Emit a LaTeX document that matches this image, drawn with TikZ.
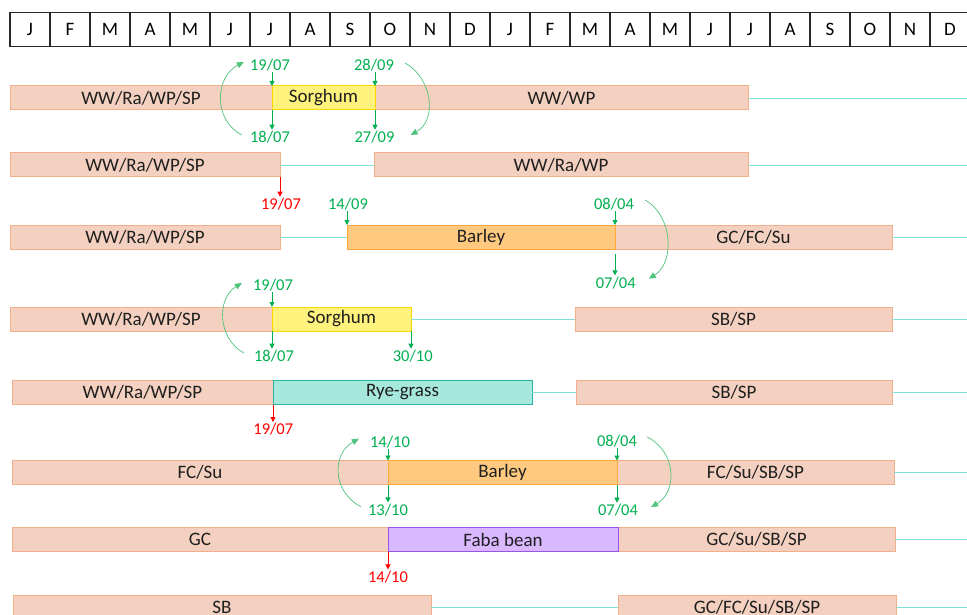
\documentclass[tikz,border=0pt]{standalone}
\usepackage{fontspec}
\setmainfont{Carlito}
\usetikzlibrary{arrows.meta}
\definecolor{peachF}{RGB}{243,208,191}
\definecolor{peachD}{RGB}{243,175,140}
\definecolor{sorgF}{RGB}{255,243,125}
\definecolor{sorgD}{RGB}{255,215,0}
\definecolor{barlF}{RGB}{255,201,128}
\definecolor{barlD}{RGB}{255,168,55}
\definecolor{ryeF}{RGB}{166,232,219}
\definecolor{ryeD}{RGB}{40,180,160}
\definecolor{fabaF}{RGB}{217,184,255}
\definecolor{fabaD}{RGB}{150,85,235}
\definecolor{cyanL}{RGB}{130,224,214}
\definecolor{gdate}{RGB}{0,176,80}
\definecolor{garcC}{RGB}{80,195,125}
\definecolor{rdate}{RGB}{255,0,0}
\definecolor{hdr}{RGB}{40,40,40}
\newcommand{\cropbar}[6]{\pgfmathsetmacro{\barw}{#3-#2}\node[#5, minimum width=\barw pt, anchor=west] (#1) at (#2,#4) {#6};}
\tikzset{
 barbase/.style={line width=1pt, minimum height=24pt, inner sep=0pt, outer sep=0pt, font=\fontsize{19}{21}\selectfont, text=black!88},
 peach/.style={barbase, fill=peachF, draw=peachD},
 sorg/.style={barbase, fill=sorgF, draw=sorgD},
 barl/.style={barbase, fill=barlF, draw=barlD},
 rye/.style={barbase, fill=ryeF, draw=ryeD},
 faba/.style={barbase, fill=fabaF, draw=fabaD},
 month/.style={draw=hdr, line width=1.1pt, minimum width=40pt, minimum height=34pt, inner sep=0pt, outer sep=0pt, font=\fontsize{19}{21}\selectfont},
 gd/.style={text=gdate, font=\fontsize{16.5}{18}\selectfont, inner sep=1pt},
 rd/.style={text=rdate, font=\fontsize{16.5}{18}\selectfont, inner sep=1pt},
 garr/.style={draw=gdate, line width=0.8pt, -{Triangle[width=5pt,length=5pt]}},
 rarr/.style={draw=rdate, line width=0.8pt, -{Triangle[width=5pt,length=5pt]}},
 garc/.style={draw=garcC, line width=0.7pt, -{Triangle[width=6pt,length=7pt]}},
 link/.style={draw=cyanL, line width=0.9pt},
}
\begin{document}
\begin{tikzpicture}[x=1pt, y=-1pt]
\useasboundingbox (0,0) rectangle (967,615);
\clip (0,0) rectangle (967,615);
\fill[white] (0,0) rectangle (967,615);
% header
\foreach \m [count=\i from 0] in {J,F,M,A,M,J,J,A,S,O,N,D,J,F,M,A,M,J,J,A,S,O,N,D}
  \node[month] (m\i) at (30+40*\i, 29.7) {\m};
% row 1
\cropbar{A1}{10}{272}{98}{peach}{WW/Ra/WP/SP}
\cropbar{B1}{375}{748}{98}{peach}{WW/WP}
\cropbar{S1}{272}{375}{98}{sorg}{Sorghum}
% row 2
\cropbar{A2}{10}{280}{165}{peach}{WW/Ra/WP/SP}
\cropbar{B2}{374}{748}{165}{peach}{WW/Ra/WP}
% row 3
\cropbar{A3}{10}{280}{237}{peach}{WW/Ra/WP/SP}
\cropbar{C3}{615}{892}{237}{peach}{GC/FC/Su}
\cropbar{Y3}{347}{615}{237}{barl}{Barley}
% row 4
\cropbar{A4}{10}{272}{319}{peach}{WW/Ra/WP/SP}
\cropbar{B4}{575}{892}{319}{peach}{SB/SP}
\cropbar{S4}{272}{411}{319}{sorg}{Sorghum}
% row 5
\cropbar{A5}{12}{273}{392.5}{peach}{WW/Ra/WP/SP}
\cropbar{B5}{576}{892}{392.5}{peach}{SB/SP}
\cropbar{R5}{273}{532}{392.5}{rye}{Rye-grass}
% row 6
\cropbar{A6}{12}{388}{472.5}{peach}{FC/Su}
\cropbar{C6}{617}{894}{472.5}{peach}{FC/Su/SB/SP}
\cropbar{Y6}{388}{617}{472.5}{barl}{Barley}
% row 7
\cropbar{A7}{12}{388}{539.5}{peach}{GC}
\cropbar{C7}{618}{895}{539.5}{peach}{GC/Su/SB/SP}
\cropbar{F7}{388}{618}{539.5}{faba}{Faba bean}
% row 8
\cropbar{A8}{13}{431}{607.5}{peach}{SB}
\cropbar{C8}{618}{896}{607.5}{peach}{GC/FC/Su/SB/SP}
% right ends
\coordinate (e1) at (970,98);
\coordinate (e2) at (970,165);
\coordinate (e3) at (970,237);
\coordinate (e4) at (970,319);
\coordinate (e5) at (970,392.5);
\coordinate (e6) at (970,472.5);
\coordinate (e7) at (970,539.5);
\coordinate (e8) at (970,607.5);
% links
\draw[link] (B1.east) -- (e1);
\draw[link] (A2.east) -- (B2.west);
\draw[link] (B2.east) -- (e2);
\draw[link] (A3.east) -- (Y3.west);
\draw[link] (C3.east) -- (e3);
\draw[link] (S4.east) -- (B4.west);
\draw[link] (B4.east) -- (e4);
\draw[link] (R5.east) -- (B5.west);
\draw[link] (B5.east) -- (e5);
\draw[link] (C6.east) -- (e6);
\draw[link] (C7.east) -- (e7);
\draw[link] (A8.east) -- (C8.west);
\draw[link] (C8.east) -- (e8);
% labels row 1
\node[gd] (d1a) at (270,65) {19/07};
\node[gd] (d1b) at (270,137) {18/07};
\node[gd] (d1c) at (374,65) {28/09};
\node[gd] (d1d) at (374.5,137) {27/09};
\draw[garr] (S1.north west |- d1a.south) -- (S1.north west);
\draw[garr] (S1.south west) -- (S1.south west |- d1b.north);
\draw[garr] (S1.north east |- d1c.south) -- (S1.north east);
\draw[garr] (S1.south east) -- (S1.south east |- d1d.north);
\draw[garc] ([shift={(-7,-2)}]d1b.west) .. controls +(-29,-15) and +(-29,15) .. ([shift={(-5,-3)}]d1a.west);
\draw[garc] ([shift={(10,-2)}]d1c.east) .. controls +(27,15) and +(27,-15) .. ([shift={(15,-2)}]d1d.east);
% row 2
\node[rd] (r2) at (281,204) {19/07};
\draw[rarr] (A2.south east) -- (A2.south east |- r2.north);
% row 3
\node[gd] (d3a) at (348,204) {14/09};
\node[gd] (d3b) at (614,204) {08/04};
\node[gd] (d3c) at (615.7,282.7) {07/04};
\draw[garr] (Y3.north west |- d3a.south) -- (Y3.north west);
\draw[garr] (Y3.north east |- d3b.south) -- (Y3.north east);
\draw[garr, shorten <=5pt] (Y3.south east) -- (Y3.south east |- d3c.north);
\draw[garc] ([shift={(10,-4)}]d3b.east) .. controls +(28,16) and +(26,-16) .. ([shift={(12,-4)}]d3c.east);
% row 4
\node[gd] (d4a) at (273,285) {19/07};
\node[gd] (d4b) at (274,356) {18/07};
\node[gd] (d4c) at (412.7,356) {30/10};
\draw[garr] (S4.north west |- d4a.south) -- (S4.north west);
\draw[garr] (S4.south west) -- (S4.south west |- d4b.north);
\draw[garr] (S4.south east) -- (S4.south east |- d4c.north);
\draw[garc] ([shift={(-9,-3)}]d4b.west) .. controls +(-27,-15) and +(-25,15) .. ([shift={(-10,-2)}]d4a.west);
% row 5
\node[rd] (r5) at (273.3,429.3) {19/07};
\draw[rarr] (R5.south west) -- (R5.south west |- r5.north);
% row 6
\node[gd] (d6a) at (390,441.7) {14/10};
\node[gd] (d6b) at (388,509.7) {13/10};
\node[gd] (d6c) at (617,441) {08/04};
\node[gd] (d6d) at (618,510) {07/04};
\draw[garr] (Y6.north west |- d6a.south) -- (Y6.north west);
\draw[garr] (Y6.south west) -- (Y6.south west |- d6b.north);
\draw[garr] (Y6.north east |- d6c.south) -- (Y6.north east);
\draw[garr] (Y6.south east) -- (Y6.south east |- d6d.north);
\draw[garc] ([shift={(-6,-3)}]d6b.west) .. controls +(-29,-15) and +(-27,15) .. ([shift={(-10,-3)}]d6a.west);
\draw[garc] ([shift={(9,-4)}]d6c.east) .. controls +(30,15) and +(26,-15) .. ([shift={(12,-3)}]d6d.east);
% row 7
\node[rd] (r7) at (388,576.7) {14/10};
\draw[rarr] (F7.south west) -- (F7.south west |- r7.north);
\end{tikzpicture}
\end{document}
